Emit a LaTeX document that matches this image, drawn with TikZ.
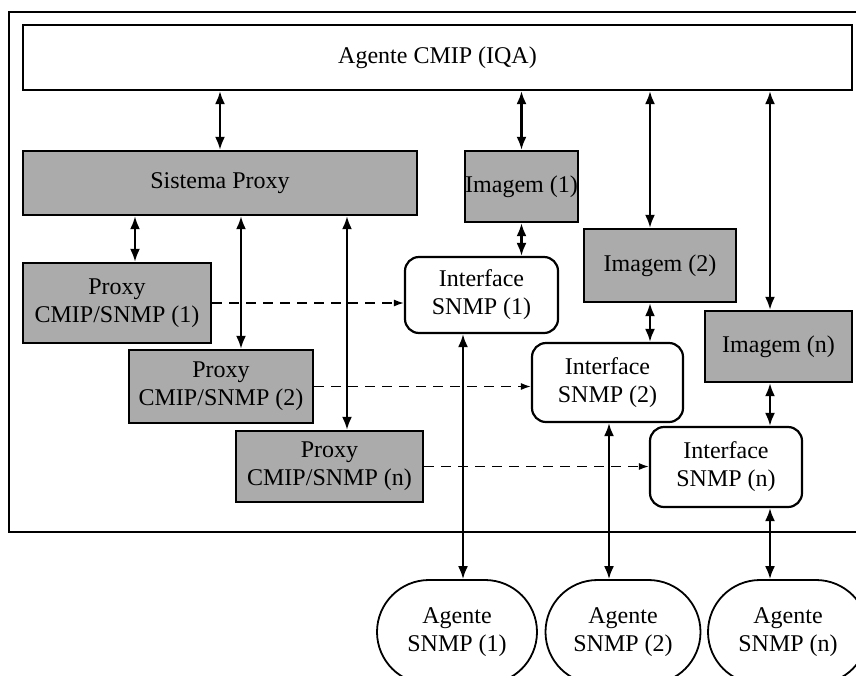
\documentclass[tikz,border=0pt]{standalone}
\usepackage{fontspec}
\setmainfont{Liberation Serif}
\usetikzlibrary{arrows.meta}

\tikzset{
  grain/.style={draw, line width=2.4pt, fill=black!33, inner sep=0pt, align=center},
  iface/.style={draw, line width=2.2pt, rounded corners=14pt, fill=white, inner sep=0pt, align=center},
  agent/.style={draw, line width=1.8pt, rounded corners=52pt, inner sep=0pt, align=center,
    minimum width=160pt, minimum height=104pt},
  link/.style={<->, line width=2.2pt},
  via/.style={-{Latex[length=10pt,width=7pt]}, dash pattern=on 10pt off 7pt, line width=1.4pt},
}

\begin{document}
\begin{tikzpicture}[x=1pt, y=-1pt, >={Latex[length=13pt,width=10pt]}, font=\fontsize{24}{28}\selectfont]
  \useasboundingbox (0,0) rectangle (856,675);

  % outer frame, open to the right
  \draw[line width=2pt] (862,12) -- (9,12) -- (9,532) -- (862,532);

  \node[draw, line width=2.2pt, minimum width=829pt, minimum height=65pt] (cmip) at (437.5,57.5) {Agente CMIP (IQA)};

  \node[grain, minimum width=394pt, minimum height=64pt] (sys) at (220,183) {Sistema Proxy};
  \node[grain, minimum width=188pt, minimum height=80pt] (prox1) at (117,303) {Proxy\\CMIP/SNMP (1)};
  \node[grain, minimum width=184pt, minimum height=73pt] (prox2) at (221,386.5) {Proxy\\CMIP/SNMP (2)};
  \node[grain, minimum width=187pt, minimum height=71pt] (proxn) at (329.5,466.5) {Proxy\\CMIP/SNMP (n)};

  \node[grain, minimum width=113pt, minimum height=71pt] (img1) at (521.5,186.5) {Imagem (1)};
  \node[grain, minimum width=152pt, minimum height=73pt] (img2) at (660,265.5) {Imagem (2)};
  \node[grain, minimum width=147pt, minimum height=71pt] (imgn) at (778.5,346.5) {Imagem (n)};

  \node[iface, minimum width=153pt, minimum height=76pt] (if1) at (481.5,295) {Interface\\SNMP (1)};
  \node[iface, minimum width=151pt, minimum height=79pt] (if2) at (607.5,382.5) {Interface\\SNMP (2)};
  \node[iface, minimum width=152pt, minimum height=80pt] (ifn) at (726,467) {Interface\\SNMP (n)};

  \node[agent] (ag1) at (457,632) {Agente\\SNMP (1)};
  \node[agent, minimum width=155pt] (ag2) at (623,632) {Agente\\SNMP (2)};
  \node[agent] (agn) at (788,632) {Agente\\SNMP (n)};

  \coordinate (x1) at (135,0);
  \coordinate (x2) at (241,0);
  \coordinate (x3) at (347,0);
  \coordinate (x4) at (463,0);
  \coordinate (x5) at (609,0);
  \coordinate (x6) at (650,0);
  \coordinate (x7) at (770,0);

  \draw[link] (cmip.south -| sys) -- (sys.north);
  \draw[link] (cmip.south -| img1) -- (img1.north);
  \draw[link] (cmip.south -| x6) -- (img2.north -| x6);
  \draw[link] (cmip.south -| x7) -- (imgn.north -| x7);

  \draw[link] (sys.south -| x1) -- (prox1.north -| x1);
  \draw[link] (sys.south -| x2) -- (prox2.north -| x2);
  \draw[link] (sys.south -| x3) -- (proxn.north -| x3);

  \draw[link] (img1.south) -- (img1.south |- if1.north);
  \draw[link] (img2.south -| x6) -- (if2.north -| x6);
  \draw[link] (imgn.south -| x7) -- (ifn.north -| x7);

  \draw[link] (if1.south -| x4) -- (ag1.north -| x4);
  \draw[link] (if2.south -| x5) -- (ag2.north -| x5);
  \draw[link] (ifn.south -| x7) -- (agn.north -| x7);

  \draw[via] (prox1.east) -- (prox1.east -| if1.west);
  \draw[via] (prox2.east) -- (prox2.east -| if2.west);
  \draw[via] (proxn.east) -- (proxn.east -| ifn.west);
\end{tikzpicture}
\end{document}
